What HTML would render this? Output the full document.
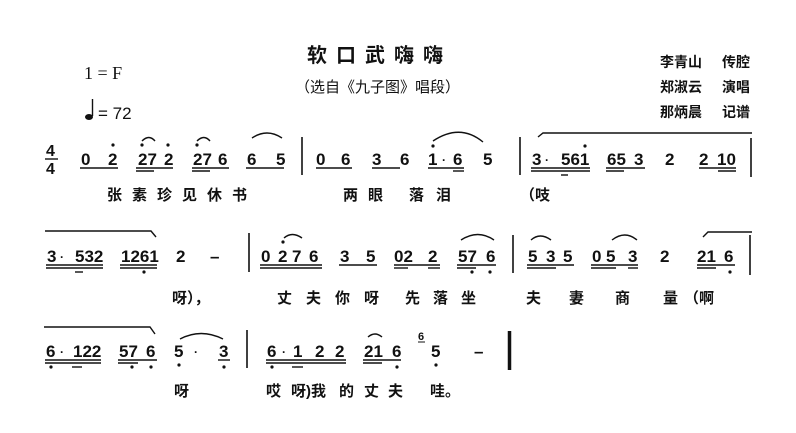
<!DOCTYPE html>
<html><head><meta charset="utf-8"><style>
html,body{margin:0;padding:0;background:#fff;}
svg{display:block;}
.n{font-family:"Liberation Sans",sans-serif;font-size:17px;font-weight:bold;fill:#111;}
.c{font-family:"Liberation Sans","Noto Sans CJK SC",sans-serif;font-size:15px;font-weight:bold;fill:#111;}
.l{stroke:#111;stroke-width:1.4;fill:none;}
.d{fill:#111;}
</style></head><body>
<svg width="796" height="433" viewBox="0 0 796 433" xmlns="http://www.w3.org/2000/svg">
<!-- header -->
<text x="307" y="62" class="c" style="font-size:20px;letter-spacing:9px">软口武嗨嗨</text>
<text x="295" y="92" class="c" style="font-size:15px;font-weight:normal">（选自《九子图》唱段）</text>
<text x="84" y="79" style="font-family:'Liberation Serif',serif;font-size:18px;fill:#111">1 = F</text>
<ellipse cx="89" cy="117" rx="4" ry="3" class="d"/>
<line x1="92.5" y1="99" x2="92.5" y2="116" class="l"/>
<text x="98" y="119" style="font-family:'Liberation Sans',sans-serif;font-size:17px;fill:#111">= 72</text>
<text x="660" y="67" class="c" style="font-size:14px">李青山</text><text x="722" y="67" class="c" style="font-size:14px">传腔</text>
<text x="660" y="92" class="c" style="font-size:14px">郑淑云</text><text x="722" y="92" class="c" style="font-size:14px">演唱</text>
<text x="660" y="117" class="c" style="font-size:14px">那炳晨</text><text x="722" y="117" class="c" style="font-size:14px">记谱</text>

<!-- time sig -->
<text x="46" y="156" class="n" style="font-size:16px">4</text>
<line x1="45" y1="159" x2="58" y2="159" class="l"/>
<text x="46" y="174" class="n" style="font-size:16px">4</text>

<!-- ROW 1 -->
<g class="n">
<text x="81" y="165">0</text><text x="108" y="165">2</text>
<text x="138" y="165">27</text><text x="164" y="165">2</text>
<text x="193" y="165">27</text><text x="218" y="165">6</text>
<text x="247" y="165">6</text><text x="276" y="165">5</text>
<text x="316" y="165">0</text><text x="341" y="165">6</text>
<text x="372" y="165">3</text><text x="400" y="165">6</text>
<text x="428" y="165">1</text><text x="442" y="164" style="font-size:12px">·</text><text x="453" y="165">6</text><text x="483" y="165">5</text>
<text x="532" y="165">3</text><text x="545" y="164" style="font-size:12px">·</text><text x="561" y="165">561</text>
<text x="607" y="165">65</text><text x="634" y="165">3</text>
<text x="665" y="165">2</text>
<text x="699" y="165">2</text><text x="717" y="165">10</text>
</g>
<g class="d">
<circle cx="113" cy="145" r="1.6"/><circle cx="142" cy="145" r="1.6"/><circle cx="168" cy="145" r="1.6"/>
<circle cx="197" cy="145" r="1.6"/><circle cx="433" cy="146" r="1.6"/><circle cx="585" cy="146" r="1.6"/>
</g>
<g class="l">
<line x1="80" y1="168" x2="118" y2="168"/>
<line x1="136" y1="168" x2="173" y2="168"/><line x1="136" y1="171" x2="154" y2="171"/>
<line x1="192" y1="168" x2="229" y2="168"/><line x1="192" y1="171" x2="210" y2="171"/>
<line x1="246" y1="168" x2="284" y2="168"/>
<line x1="316" y1="168" x2="352" y2="168"/>
<line x1="372" y1="168" x2="400" y2="168"/>
<line x1="428" y1="168" x2="464" y2="168"/><line x1="453" y1="171" x2="464" y2="171"/>
<line x1="531" y1="168" x2="590" y2="168"/><line x1="531" y1="171" x2="590" y2="171"/><line x1="561" y1="175" x2="568" y2="175"/>
<line x1="606" y1="168" x2="645" y2="168"/><line x1="606" y1="171" x2="624" y2="171"/>
<line x1="699" y1="168" x2="736" y2="168"/><line x1="718" y1="171" x2="736" y2="171"/>
<path d="M142 141 Q149 134 155 141"/>
<path d="M197 141 Q204 134 210 141"/>
<path d="M252 138 Q267 128 282 138"/>
<path d="M433 141 Q460 123 483 142"/>
<path d="M538 137 L543 133 L752 133"/>
</g>
<line x1="302" y1="137" x2="302" y2="175" class="l" style="stroke-width:1.6"/>
<line x1="520" y1="137" x2="520" y2="175" class="l" style="stroke-width:1.6"/>
<line x1="751" y1="138" x2="751" y2="177" class="l" style="stroke-width:1.6"/>
<g class="c">
<text x="107" y="200" style="letter-spacing:10px">张素珍见休书</text>
<text x="343" y="200">两</text><text x="368" y="200">眼</text><text x="409" y="200">落</text><text x="436" y="200">泪</text>
<text x="520" y="200">（吱</text>
</g>

<!-- ROW 2 -->
<g class="n">
<text x="47" y="262">3</text><text x="60" y="261" style="font-size:12px">·</text><text x="75" y="262">532</text>
<text x="121" y="262">1261</text>
<text x="176" y="262">2</text><text x="210" y="262">–</text>
<text x="261" y="262">0</text><text x="278" y="262">2</text><text x="292" y="262">7</text><text x="309" y="262">6</text>
<text x="340" y="262">3</text><text x="366" y="262">5</text>
<text x="394" y="262">02</text><text x="428" y="262">2</text>
<text x="458" y="262">57</text><text x="486" y="262">6</text>
<text x="528" y="262">5</text><text x="546" y="262">3</text><text x="563" y="262">5</text>
<text x="592" y="262">0</text><text x="606" y="262">5</text><text x="628" y="262">3</text>
<text x="660" y="262">2</text>
<text x="697" y="262">21</text><text x="724" y="262">6</text>
</g>
<g class="d">
<circle cx="283" cy="242" r="1.6"/>
<circle cx="144" cy="272" r="1.6"/><circle cx="472" cy="272" r="1.6"/><circle cx="490" cy="272" r="1.6"/><circle cx="730" cy="272" r="1.6"/>
</g>
<g class="l">
<line x1="46" y1="265" x2="103" y2="265"/><line x1="46" y1="268" x2="103" y2="268"/><line x1="75" y1="272" x2="83" y2="272"/>
<line x1="120" y1="265" x2="157" y2="265"/><line x1="120" y1="268" x2="157" y2="268"/>
<line x1="260" y1="265" x2="322" y2="265"/><line x1="260" y1="268" x2="322" y2="268"/>
<line x1="339" y1="265" x2="377" y2="265"/>
<line x1="394" y1="265" x2="440" y2="265"/><line x1="394" y1="268" x2="408" y2="268"/><line x1="428" y1="268" x2="440" y2="268"/>
<line x1="457" y1="265" x2="496" y2="265"/><line x1="457" y1="268" x2="476" y2="268"/>
<line x1="527" y1="265" x2="574" y2="265"/><line x1="527" y1="268" x2="556" y2="268"/>
<line x1="591" y1="265" x2="638" y2="265"/><line x1="591" y1="268" x2="616" y2="268"/><line x1="628" y1="268" x2="638" y2="268"/>
<line x1="697" y1="265" x2="735" y2="265"/><line x1="697" y1="268" x2="716" y2="268"/>
<path d="M45 231 L151 231 L156 237"/>
<path d="M703 237 L708 232 L752 232"/>
<path d="M284 238 Q292 231 302 238"/>
<path d="M461 240 Q478 229 494 240"/>
<path d="M531 240 Q540 232 551 240"/>
<path d="M612 240 Q625 230 637 240"/>
</g>
<line x1="249" y1="233" x2="249" y2="272" class="l" style="stroke-width:1.6"/>
<line x1="513" y1="235" x2="513" y2="273" class="l" style="stroke-width:1.6"/>
<line x1="750" y1="235" x2="750" y2="275" class="l" style="stroke-width:1.6"/>
<g class="c">
<text x="172" y="303">呀），</text>
<text x="277" y="303" style="letter-spacing:14px">丈夫你呀</text>
<text x="405" y="303" style="letter-spacing:13px">先落坐</text>
<text x="526" y="303">夫</text><text x="569" y="303">妻</text><text x="615" y="303">商</text><text x="663" y="303">量</text><text x="684" y="303">（啊</text>
</g>

<!-- ROW 3 -->
<g class="n">
<text x="46" y="357">6</text><text x="60" y="356" style="font-size:12px">·</text><text x="73" y="357">122</text>
<text x="119" y="357">57</text><text x="146" y="357">6</text>
<text x="174" y="357">5</text><text x="194" y="356" style="font-size:12px">·</text><text x="219" y="357">3</text>
<text x="267" y="357">6</text><text x="282" y="356" style="font-size:12px">·</text><text x="293" y="357">1</text><text x="315" y="357">2</text><text x="335" y="357">2</text>
<text x="364" y="357">21</text><text x="392" y="357">6</text>
<text x="418" y="340" style="font-size:11px">6</text>
<text x="431" y="357">5</text><text x="474" y="357">–</text>
</g>
<g class="d">
<circle cx="51" cy="367" r="1.6"/><circle cx="132" cy="367" r="1.6"/><circle cx="151" cy="367" r="1.6"/>
<circle cx="179" cy="365" r="1.6"/><circle cx="224" cy="367" r="1.6"/>
<circle cx="272" cy="367" r="1.6"/><circle cx="397" cy="367" r="1.6"/><circle cx="436" cy="365" r="1.6"/>
</g>
<g class="l">
<line x1="45" y1="360" x2="101" y2="360"/><line x1="45" y1="363" x2="101" y2="363"/><line x1="72" y1="367" x2="82" y2="367"/>
<line x1="118" y1="360" x2="157" y2="360"/><line x1="118" y1="363" x2="138" y2="363"/>
<line x1="218" y1="360" x2="230" y2="360"/>
<line x1="266" y1="360" x2="346" y2="360"/><line x1="266" y1="363" x2="346" y2="363"/><line x1="292" y1="367" x2="303" y2="367"/>
<line x1="363" y1="360" x2="401" y2="360"/><line x1="363" y1="363" x2="382" y2="363"/>
<line x1="418" y1="342" x2="425" y2="342" style="stroke-width:1"/>
<path d="M44 327 L150 327 L155 334"/>
<path d="M180 339 Q201 328 223 339"/>
<path d="M368 337 Q375 331 382 337"/>
</g>
<line x1="247" y1="330" x2="247" y2="368" class="l" style="stroke-width:1.6"/>
<line x1="509.5" y1="331" x2="509.5" y2="370" style="stroke:#111;stroke-width:3.5"/>
<g class="c">
<text x="174" y="396">呀</text>
<text x="266" y="396">哎</text><text x="291" y="396">呀)我</text><text x="339" y="396">的</text><text x="364" y="396">丈</text><text x="388" y="396">夫</text><text x="430" y="396">哇。</text>
</g>
</svg>
</body></html>
